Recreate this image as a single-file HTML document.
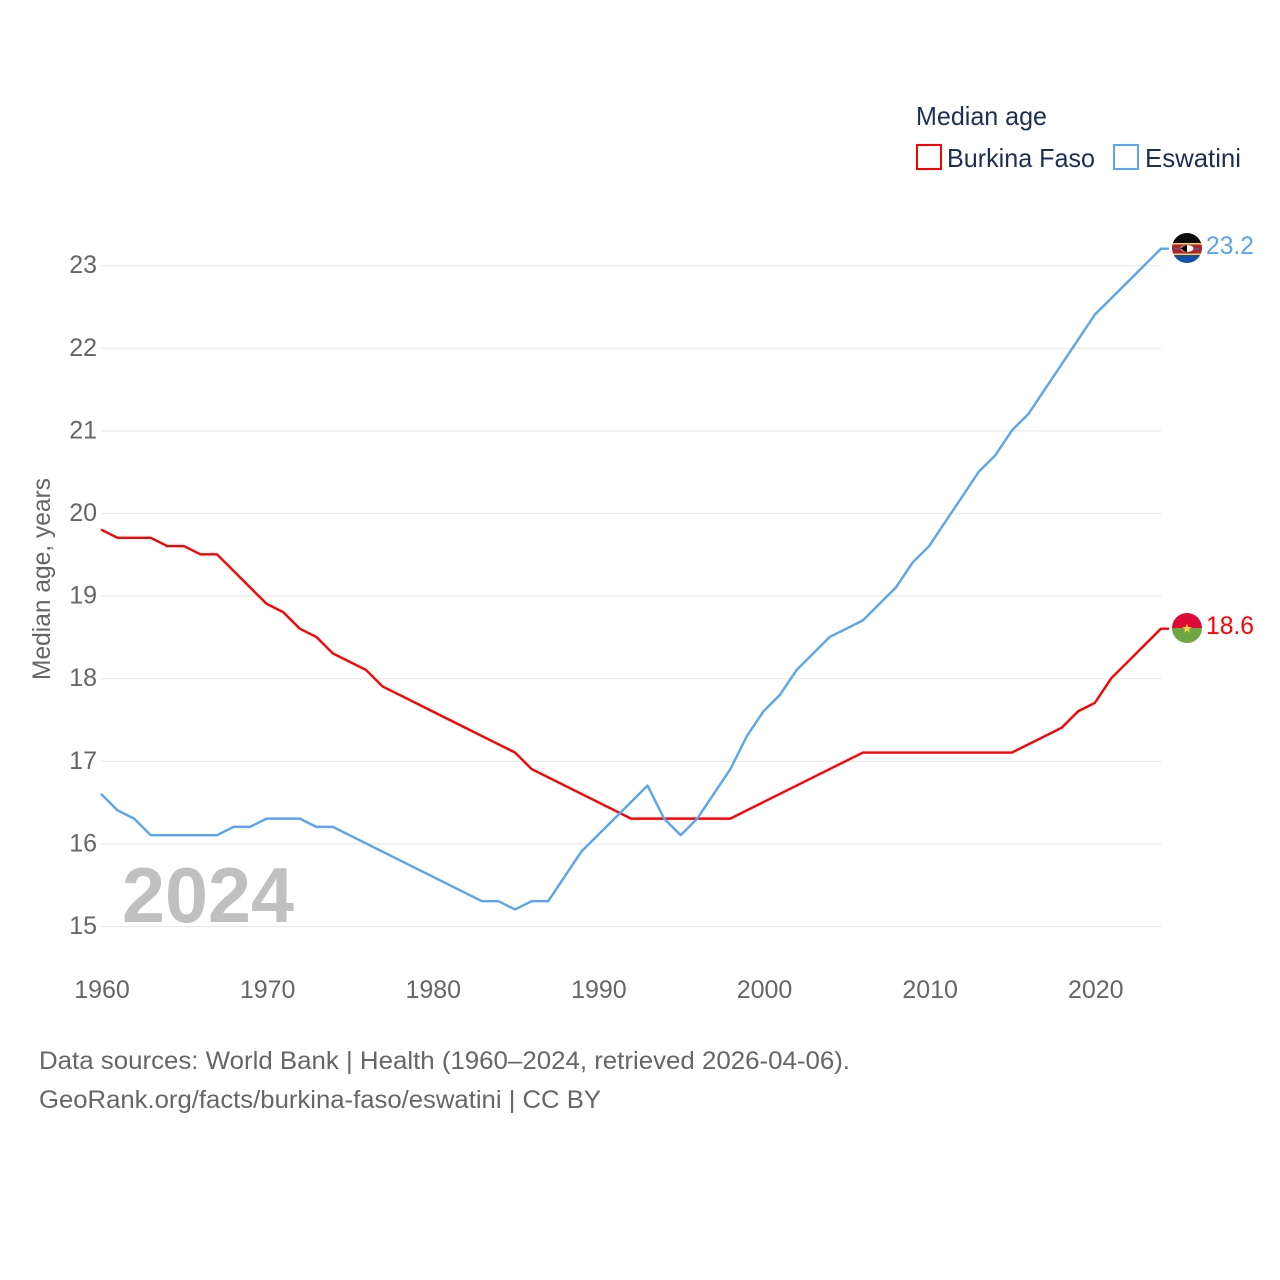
<!DOCTYPE html>
<html lang="en">
<head>
<meta charset="utf-8">
<title>Median age: Burkina Faso and Eswatini</title>
<style>
html,body{margin:0;padding:0;background:#fff;}
svg{display:block;font-family:"Liberation Sans",sans-serif;}
</style>
</head>
<body>
<svg id="chart" xmlns="http://www.w3.org/2000/svg" width="1280" height="1280" viewBox="0 0 1280 1280">
  <defs>
    <clipPath id="clip-sz"><circle cx="1187" cy="248" r="15"/></clipPath>
    <clipPath id="clip-bf"><circle cx="1187" cy="628" r="15"/></clipPath>
  </defs>
  <rect width="1280" height="1280" fill="#ffffff"/>

  <g id="grid"></g>
  <g id="y-ticks"></g>
  <g id="x-ticks"></g>

  <text transform="translate(50,680) rotate(-90)" font-size="25" fill="#666666" textLength="202" lengthAdjust="spacingAndGlyphs">Median age, years</text>

  <text x="122" y="922" font-size="78" font-weight="700" fill="#c0c0c0" textLength="172" lengthAdjust="spacingAndGlyphs">2024</text>

  <g id="series"></g>

  <g clip-path="url(#clip-sz)">
    <rect x="1172" y="233" width="30" height="10" fill="#0b0b0b"/>
    <rect x="1172" y="243" width="30" height="1.5" fill="#f5d442"/>
    <rect x="1172" y="244.5" width="30" height="9" fill="#b1222e"/>
    <rect x="1172" y="253.5" width="30" height="1.5" fill="#f5d442"/>
    <rect x="1172" y="255" width="30" height="8" fill="#1450a8"/>
    <ellipse cx="1187" cy="248.500" rx="6.500" ry="3.500" fill="#ffffff"/>
    <path d="M1180.500 248.500 Q1184 245 1187 245 L1187 252 Q1184 252 1180.500 248.500Z" fill="#000000"/>
    <rect x="1175" y="248" width="4" height="1.500" fill="#2a6fc0"/>
    <rect x="1195" y="248" width="4" height="1.500" fill="#2a6fc0"/>
  </g>
  <g clip-path="url(#clip-bf)">
    <rect x="1172" y="613" width="30" height="15" fill="#de0a35"/>
    <rect x="1172" y="628" width="30" height="15" fill="#6fa542"/>
    <polygon points="1187,623.500 1188.200,627 1191.800,627 1188.900,629.200 1190,632.700 1187,630.500 1184,632.700 1185.100,629.200 1182.200,627 1185.800,627" fill="#f5d442"/>
  </g>

  <text x="1206" y="254" font-size="25" fill="#5ba4ee" textLength="48" lengthAdjust="spacingAndGlyphs">23.2</text>
  <text x="1206" y="634" font-size="25" fill="#ff0000" textLength="48" lengthAdjust="spacingAndGlyphs">18.6</text>

  <g>
    <text x="916" y="125" font-size="26" fill="#1b3154" textLength="131" lengthAdjust="spacingAndGlyphs">Median age</text>
    <g>
      <rect x="917" y="145" width="24" height="24" fill="#ffffff" stroke="#ff0000" stroke-width="2"/>
      <text x="947" y="167" font-size="26" fill="#1b3154" textLength="148" lengthAdjust="spacingAndGlyphs">Burkina Faso</text>
    </g>
    <g>
      <rect x="1114" y="145" width="24" height="24" fill="#ffffff" stroke="#5ba4ee" stroke-width="2"/>
      <text x="1145" y="167" font-size="26" fill="#1b3154" textLength="96" lengthAdjust="spacingAndGlyphs">Eswatini</text>
    </g>
  </g>

  <text x="39" y="1069" font-size="25" fill="#666666" textLength="811" lengthAdjust="spacingAndGlyphs">Data sources: World Bank | Health (1960–2024, retrieved 2026-04-06).</text>
  <text x="39" y="1108" font-size="25" fill="#666666" textLength="562" lengthAdjust="spacingAndGlyphs">GeoRank.org/facts/burkina-faso/eswatini | CC BY</text>
</svg>
<script>
const startYear = 1960;
const yTickValues = [15, 16, 17, 18, 19, 20, 21, 22, 23];
const xTickValues = [1960, 1970, 1980, 1990, 2000, 2010, 2020];
const burkinaFaso = [
  19.8, 19.7, 19.7, 19.7, 19.6, 19.6, 19.5, 19.5, 19.3, 19.1,
  18.9, 18.8, 18.6, 18.5, 18.3, 18.2, 18.1, 17.9, 17.8, 17.7,
  17.6, 17.5, 17.4, 17.3, 17.2, 17.1, 16.9, 16.8, 16.7, 16.6,
  16.5, 16.4, 16.3, 16.3, 16.3, 16.3, 16.3, 16.3, 16.3, 16.4,
  16.5, 16.6, 16.7, 16.8, 16.9, 17.0, 17.1, 17.1, 17.1, 17.1,
  17.1, 17.1, 17.1, 17.1, 17.1, 17.1, 17.2, 17.3, 17.4, 17.6,
  17.7, 18.0, 18.2, 18.4, 18.6
];
const eswatini = [
  16.6, 16.4, 16.3, 16.1, 16.1, 16.1, 16.1, 16.1, 16.2, 16.2,
  16.3, 16.3, 16.3, 16.2, 16.2, 16.1, 16.0, 15.9, 15.8, 15.7,
  15.6, 15.5, 15.4, 15.3, 15.3, 15.2, 15.3, 15.3, 15.6, 15.9,
  16.1, 16.3, 16.5, 16.7, 16.3, 16.1, 16.3, 16.6, 16.9, 17.3,
  17.6, 17.8, 18.1, 18.3, 18.5, 18.6, 18.7, 18.9, 19.1, 19.4,
  19.6, 19.9, 20.2, 20.5, 20.7, 21.0, 21.2, 21.5, 21.8, 22.1,
  22.4, 22.6, 22.8, 23.0, 23.2
];

const NS = 'http://www.w3.org/2000/svg';
function xScale(year) { return 101 + (year - 1960) * 16.5625; }
function yScale(v) { return 926 - (v - 15) * 82.6; }

const grid = document.getElementById('grid');
const yTicks = document.getElementById('y-ticks');
const xTicks = document.getElementById('x-ticks');
const seriesGroup = document.getElementById('series');

yTickValues.forEach(function (v) {
  const line = document.createElementNS(NS, 'line');
  
  
  line.setAttribute('x1', 101);
  line.setAttribute('x2', 1161);
  line.setAttribute('y1', yScale(v) + 0.5);
  line.setAttribute('y2', yScale(v) + 0.5);
  line.setAttribute('stroke', '#e9e9e9');
  line.setAttribute('stroke-width', 1.2);
  grid.appendChild(line);

  const label = document.createElementNS(NS, 'text');
  
  
  label.setAttribute('x', 97);
  label.setAttribute('y', yScale(v) + 8);
  label.setAttribute('text-anchor', 'end');
  label.setAttribute('font-size', 25);
  label.setAttribute('fill', '#666666');
  label.textContent = v;
  yTicks.appendChild(label);
});

xTickValues.forEach(function (year) {
  const label = document.createElementNS(NS, 'text');
  
  
  label.setAttribute('x', xScale(year) + 1);
  label.setAttribute('y', 998);
  label.setAttribute('text-anchor', 'middle');
  label.setAttribute('font-size', 25);
  label.setAttribute('fill', '#666666');
  label.textContent = year;
  xTicks.appendChild(label);
});

function drawSeries(values, color, name) {
  const pts = values.map(function (v, i) {
    return xScale(startYear + i).toFixed(2) + ',' + yScale(v).toFixed(2);
  });
  const last = yScale(values[values.length - 1]).toFixed(2);
  pts.push('1169,' + last);
  const path = document.createElementNS(NS, 'polyline');
  
  
  path.setAttribute('points', pts.join(' '));
  path.setAttribute('fill', 'none');
  path.setAttribute('stroke', color);
  path.setAttribute('stroke-width', 2.4);
  path.setAttribute('stroke-linejoin', 'round');
  seriesGroup.appendChild(path);
}
drawSeries(burkinaFaso, '#ff0000', 'line-burkina-faso');
drawSeries(eswatini, '#5ba4ee', 'line-eswatini');
</script>
</body>
</html>
